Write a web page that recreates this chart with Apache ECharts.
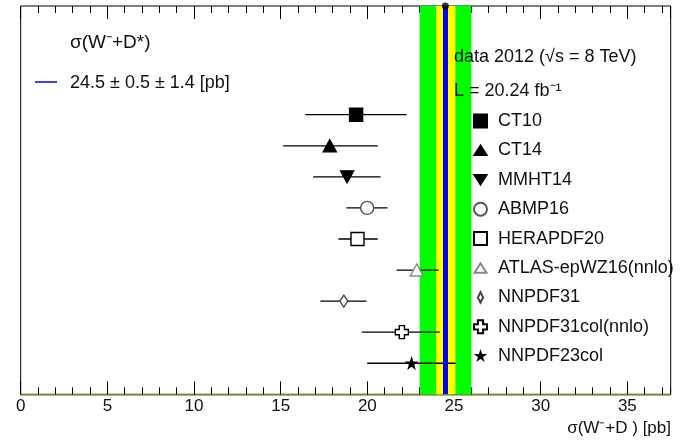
<!DOCTYPE html>
<html>
<head>
<meta charset="utf-8">
<script src="https://cdn.jsdelivr.net/npm/echarts@6/dist/echarts.min.js"></script>
<style>
html,body{margin:0;padding:0;background:#fff;}
#chart{width:683px;height:441px;}
</style>
</head>
<body>
<div id="chart"></div>
<script>
// ---- data ----
var names   = ['CT10','CT14','MMHT14','ABMP16','HERAPDF20','ATLAS-epWZ16(nnlo)','NNPDF31','NNPDF31col(nnlo)','NNPDF23col'];
var central = [19.35, 17.83, 18.83, 19.99, 19.43, 22.85, 18.64, 21.99, 22.55];
var errLo   = [16.42, 15.14, 16.87, 18.79, 18.33, 21.68, 17.29, 19.68, 19.99];
var errHi   = [22.26, 20.60, 20.76, 21.16, 20.60, 24.12, 19.95, 24.18, 25.09];
var rows    = [9, 8, 7, 6, 5, 4, 3, 2, 1];
var dataValue = 24.5;
var statBand  = [23.97, 25.08];
var totalBand = [23.02, 26.00];
var xTicks = [0, 5, 10, 15, 20, 25, 30, 35];

var FONT = '"Liberation Sans", Arial, sans-serif';
var PLUS = 'path://M3,0H7V3H10V7H7V10H3V7H0V3H3Z';
var STAR = 'path://M50,0L61,35L98,35L68,57L79,91L50,70L21,91L32,57L2,35L39,35Z';
var symbols = [
  {symbol:'rect', size:13, fill:'#000', stroke:'#000', rot:0, icon:'rect'},
  {symbol:'triangle', size:[13,12], fill:'#000', stroke:'#000', rot:0, icon:'path://M0,0M100,100M4,86L50,14L96,86Z'},
  {symbol:'triangle', size:[13,12], fill:'#000', stroke:'#000', rot:180, icon:'path://M0,0M100,100M4,14L96,14L50,86Z'},
  {symbol:'circle', size:13, fill:'#fff', stroke:'#555', rot:0, icon:'circle'},
  {symbol:'rect', size:13, fill:'#fff', stroke:'#000', rot:0, icon:'rect'},
  {symbol:'triangle', size:[13,12], fill:'#fff', stroke:'#888', rot:0, icon:'path://M0,0M100,100M4,86L50,14L96,86Z'},
  {symbol:'diamond', size:[8,12], fill:'#fff', stroke:'#444', rot:0, icon:'path://M0,0M100,100M50,10L70,50L50,90L30,50Z'},
  {symbol:PLUS, size:13, fill:'#fff', stroke:'#000', rot:0, icon:PLUS},
  {symbol:STAR, size:10, fill:'#000', stroke:'#000', rot:0,
   icon:'path://M0,0M100,100M50,20L56.6,41L78.8,41L60.8,54.2L67.4,74.6L50,62L32.6,74.6L39.2,54.2L21.2,41L43.4,41Z'}
];

var chart = echarts.init(document.getElementById('chart'));

var series = [];
// bands + central line
series.push({
  type:'scatter', data:[], z:1, silent:true,
  markArea:{
    silent:true,
    label:{show:false},
    data:[
      [{xAxis: totalBand[0], itemStyle:{color:'#00ff00', opacity:1}}, {xAxis: totalBand[1]}],
      [{xAxis: statBand[0], itemStyle:{color:'#ffff00', opacity:1}}, {xAxis: statBand[1]}]
    ]
  },
  markLine:{
    silent:true, symbol:['none','none'], label:{show:false},
    lineStyle:{color:'#0000ff', width:5, type:'solid'},
    data:[{xAxis: dataValue}]
  }
});
// black dot at top of data line
series.push({
  type:'scatter', data:[[dataValue, 12.5]], symbolSize:7, clip:false, z:6, silent:true,
  itemStyle:{color:'#000'}
});
// error bars
series.push({
  type:'custom', z:4, silent:true,
  data: rows.map(function(r,i){ return [errLo[i], errHi[i], r]; }),
  renderItem: function(params, api){
    var p1 = api.coord([api.value(0), api.value(2)]);
    var p2 = api.coord([api.value(1), api.value(2)]);
    return {type:'line', shape:{x1:p1[0], y1:p1[1], x2:p2[0], y2:p2[1]},
            style:{stroke:'#000', lineWidth:1.3}};
  },
  encode:{x:[0,1], y:2}
});
names.forEach(function(n,i){
  var s = symbols[i];
  series.push({
    type:'scatter', name:n, z:5,
    data:[[central[i], rows[i]]],
    symbol:s.symbol, symbolSize:s.size, symbolRotate:s.rot,
    itemStyle:{color:s.fill, borderColor:s.stroke, borderWidth:1.4, opacity:1}
  });
});

var axisBase = {type:'value', min:0, max:37.5, splitLine:{show:false}};
var option = {
  animation:false,
  backgroundColor:'#fff',
  grid:{left:20.7, right:12.3, top:6, bottom:46.7, show:true, borderColor:'#000', borderWidth:1, backgroundColor:'transparent'},
  xAxis:[
    Object.assign({}, axisBase, {
      position:'bottom', interval:5,
      axisLine:{show:true, lineStyle:{color:'#9c9c3c', width:1.5}},
      axisTick:{show:true, inside:true, length:13, lineStyle:{color:'#000', width:1}},
      axisLabel:{show:true, margin:4, fontFamily:FONT, fontSize:17, color:'#111', showMaxLabel:false,
        formatter:function(v){ return xTicks.indexOf(v) >= 0 ? String(v) : ''; }}
    }),
    Object.assign({}, axisBase, {
      position:'bottom', interval:1,
      axisLine:{show:false},
      axisTick:{show:true, inside:true, length:7, lineStyle:{color:'#000', width:1}},
      axisLabel:{show:false}
    }),
    Object.assign({}, axisBase, {
      position:'top', interval:5,
      axisLine:{show:false},
      axisTick:{show:true, inside:true, length:13, lineStyle:{color:'#000', width:1}},
      axisLabel:{show:false}
    }),
    Object.assign({}, axisBase, {
      position:'top', interval:1,
      axisLine:{show:false},
      axisTick:{show:true, inside:true, length:7, lineStyle:{color:'#000', width:1}},
      axisLabel:{show:false}
    })
  ],
  yAxis:{type:'value', min:0, max:12.5, show:false},
  legend:{
    orient:'vertical', left:473, top:112, padding:0, itemGap:11.4,
    itemWidth:13, itemHeight:13, selectedMode:false,
    data:names.map(function(n,i){ return {name:n, icon:symbols[i].icon}; }),
    textStyle:{fontFamily:FONT, fontSize:18, color:'#111', lineHeight:18, padding:[0,0,0,6]}
  },
  graphic:[
    {type:'text', left:70, top:33, style:{text:'σ(W\u207B+D*)', font:'19px '+FONT, fill:'#111'}},
    {type:'line', shape:{x1:35, y1:82, x2:57, y2:82}, style:{stroke:'#0000ff', lineWidth:1.5}},
    {type:'text', left:70, top:74, style:{text:'24.5 ± 0.5 ± 1.4 [pb]', font:'18px '+FONT, fill:'#111'}},
    {type:'text', left:454, top:48, z:10, style:{text:'data 2012 (√s = 8 TeV)', font:'18px '+FONT, fill:'#111'}},
    {type:'text', left:454, top:82, z:10, style:{text:'L = 20.24 fb\u207B\u00B9', font:'18px '+FONT, fill:'#111'}},
    {type:'text', right:12, top:420, style:{text:'σ(W\u207B+D ) [pb]', font:'17px '+FONT, fill:'#111'}}
  ],
  series:series
};
chart.setOption(option);
</script>
</body>
</html>
